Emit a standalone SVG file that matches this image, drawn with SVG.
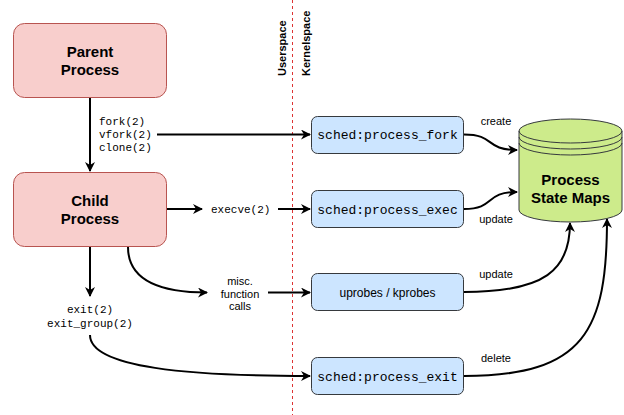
<svg xmlns="http://www.w3.org/2000/svg" width="624" height="415" viewBox="0 0 624 415">
<defs>
<marker id="arr" viewBox="0 0 10 10" refX="9" refY="5" markerWidth="5" markerHeight="5" orient="auto" markerUnits="strokeWidth">
<path d="M0,0 L10,5 L0,10 L3,5 Z" fill="#000"/>
</marker>
<style>
.proc rect{fill:#f8cecc;stroke:#b85450;stroke-width:1}
.tp rect{fill:#cce5ff;stroke:#36393d;stroke-width:1}
.big{font-family:"Liberation Sans",Arial,sans-serif;font-weight:bold;font-size:15px;text-anchor:middle;fill:#000}
.mono{font-family:"Liberation Mono","Courier New",monospace;font-size:13px;text-anchor:middle;fill:#000}
.smono{font-family:"Liberation Mono","Courier New",monospace;font-size:11px;fill:#000}
.lbl{font-family:"Liberation Sans",Arial,sans-serif;font-size:11px;text-anchor:middle;fill:#000}
.sans{font-family:"Liberation Sans",Arial,sans-serif;font-size:12px;text-anchor:middle;fill:#000}
.lane{font-family:"Liberation Sans",Arial,sans-serif;font-size:11px;font-weight:bold;fill:#000}
.c{fill:none;stroke:#000;stroke-width:2;marker-end:url(#arr)}
</style>
</defs>
<rect width="624" height="415" fill="#fff"/>
<g id="divider">
<line x1="292.5" y1="0" x2="292.5" y2="415" stroke="#d33" stroke-width="1" stroke-dasharray="3,3"/>
<text class="lane" transform="translate(286,76) rotate(-90)">Userspace</text>
<text class="lane" transform="translate(309.5,76) rotate(-90)">Kernelspace</text>
</g>
<g id="connectors">
<path class="c" d="M90,98 L90,171"/>
<path class="c" d="M157,134.5 L310,134.5"/>
<path class="c" d="M167,209 L202,209"/>
<path class="c" d="M278,209 L310,209"/>
<path class="c" d="M90,247 L90,296"/>
<path class="c" d="M128,247 C128,278 155,292.5 207,292.5"/>
<path class="c" d="M268,292.5 L310,292.5"/>
<path class="c" d="M90,335 C90,368 190,376 310,376"/>
<path class="c" d="M464,134.5 C496,134.5 484,150 517,150"/>
<path class="c" d="M464,209 C496,209 484,192 517,192"/>
<path class="c" d="M464,292 C545,292 570,270 570,223"/>
<path class="c" d="M464,376 C585,376 607,330 607,219"/>
</g>
<g id="fork-labels">
<text class="smono" x="99" y="125">fork(2)</text>
<text class="smono" x="99" y="138">vfork(2)</text>
<text class="smono" x="99" y="151">clone(2)</text>
</g>
<g id="execve-label"><text class="smono" x="211" y="213">execve(2)</text></g>
<g id="exit-labels">
<text class="smono" x="90" y="313" text-anchor="middle">exit(2)</text>
<text class="smono" x="90" y="327" text-anchor="middle">exit_group(2)</text>
</g>
<g id="misc-label">
<text class="lbl" x="240" y="285">misc.</text>
<text class="lbl" x="240" y="298">function</text>
<text class="lbl" x="240" y="310">calls</text>
</g>
<g id="edge-labels">
<text class="lbl" x="496" y="125">create</text>
<text class="lbl" x="496" y="223">update</text>
<text class="lbl" x="496" y="278">update</text>
<text class="lbl" x="496" y="362">delete</text>
</g>
<g id="parent" class="proc">
<rect x="13.5" y="23.5" width="153" height="74" rx="11"/>
<text class="big" x="90" y="57">Parent</text>
<text class="big" x="90" y="75">Process</text>
</g>
<g id="child" class="proc">
<rect x="13.5" y="172.5" width="153" height="74" rx="11"/>
<text class="big" x="90" y="206">Child</text>
<text class="big" x="90" y="224">Process</text>
</g>
<g id="fork" class="tp">
<rect x="311.5" y="116.5" width="152" height="37" rx="6"/>
<text class="mono" x="387.5" y="139">sched:process_fork</text>
</g>
<g id="exec" class="tp">
<rect x="311.5" y="190.5" width="152" height="37" rx="6"/>
<text class="mono" x="387.5" y="213.5">sched:process_exec</text>
</g>
<g id="probes" class="tp">
<rect x="311.5" y="273.5" width="152" height="37" rx="6"/>
<text class="sans" x="387.5" y="296.5">uprobes / kprobes</text>
</g>
<g id="exit" class="tp">
<rect x="311.5" y="357.5" width="152" height="37" rx="6"/>
<text class="mono" x="387.5" y="380.5">sched:process_exit</text>
</g>
<g id="maps">
<path d="M519,131 A51.5,12 0 0 1 622,131 L622,210 A51.5,12 0 0 1 519,210 Z" fill="#cdeb8b" stroke="#36393d" stroke-width="1"/>
<path d="M519,131 A51.5,12 0 0 0 622,131 M519,137 A51.5,12 0 0 0 622,137 M519,143 A51.5,12 0 0 0 622,143" fill="none" stroke="#36393d" stroke-width="1"/>
<text class="big" x="570.5" y="184.5">Process</text>
<text class="big" x="570.5" y="202.5">State Maps</text>
</g>
</svg>
